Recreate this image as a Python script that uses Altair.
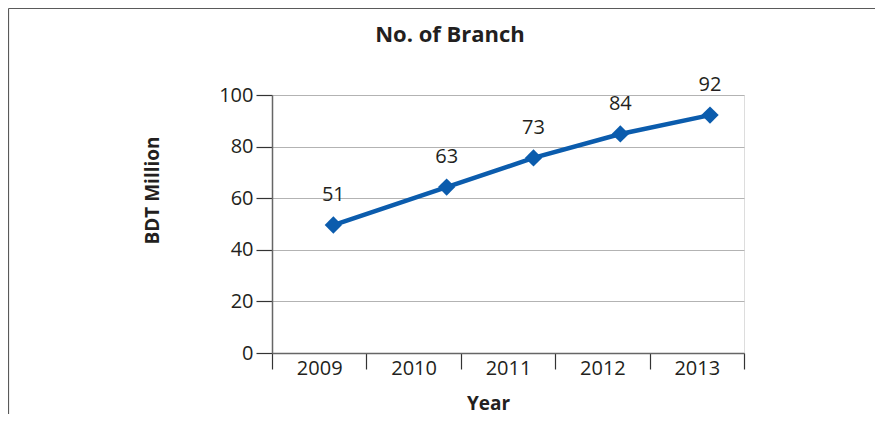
import altair as alt
import pandas as pd

# ---- data ----
years = ["2009", "2010", "2011", "2012", "2013"]
x_pos = [0.65, 1.85, 2.77, 3.69, 4.64]          # point position along the year bands (band units)
values = [49.6, 64.3, 75.6, 84.9, 92.2]         # plotted level
labels = ["51", "63", "73", "84", "92"]         # data label text
y_ticks = [0, 20, 40, 60, 80, 100]
chart_title = "No. of Branch"

df = pd.DataFrame({"year": years, "pos": x_pos, "value": values, "label": labels})

W, H = 472, 258
PAD = {"left": 264, "top": 87, "right": 133, "bottom": 61}
FONT = "Open Sans"
TEXT = "#231f20"
BLUE = "#0b5cad"

base = alt.Chart(df)

y_enc = alt.Y(
    "value:Q",
    scale=alt.Scale(domain=[0, 100], nice=False, zero=True),
    axis=alt.Axis(
        values=y_ticks,
        title="BDT Million",
        titleFont=FONT, titleFontSize=19, titleFontWeight="bold", titleColor=TEXT,
        titleAngle=-90, titleX=-120, titleY=95, titleAlign="center", titleBaseline="middle",
        labelFont=FONT, labelFontSize=20, labelColor=TEXT, labelPadding=3,
        tickSize=16, tickColor="#333333", tickWidth=1.2,
        domainColor="#666666", domainWidth=1.5,
        grid=True, gridColor="#b3b3b3", gridWidth=1,
    ),
)

axis_layer = base.mark_point(opacity=0).encode(
    x=alt.X(
        "year:O",
        scale=alt.Scale(type="band", paddingInner=0, paddingOuter=0),
        axis=alt.Axis(
            title="Year",
            titleFont=FONT, titleFontSize=19, titleFontWeight="bold", titleColor=TEXT,
            titleX=216, titleY=50, titleAlign="center", titleBaseline="middle",
            labelAngle=0, labelFont=FONT, labelFontSize=20, labelColor=TEXT,
            labelPadding=-11,
            tickBand="extent", tickSize=16, tickColor="#333333", tickWidth=1.2,
            domainColor="#666666", domainWidth=1.5, grid=False,
        ),
    ),
    y=y_enc,
)

x_q = alt.X("pos:Q", scale=alt.Scale(domain=[0, 5], nice=False, zero=False), axis=None)

line = base.mark_line(color=BLUE, strokeWidth=4.5).encode(x=x_q, y="value:Q")
pts = base.mark_point(shape="diamond", filled=True, size=300, color=BLUE, opacity=1).encode(
    x=x_q, y="value:Q"
)
txt = base.mark_text(dy=-30, fontSize=20, font=FONT, color=TEXT, baseline="middle").encode(
    x=x_q, y="value:Q", text="label:N"
)

one = pd.DataFrame({"title": [chart_title]})
title_mark = alt.Chart(one).mark_text(
    font=FONT, fontSize=22, fontWeight="bold", color=TEXT, align="center", baseline="middle"
).encode(text="title:N", x=alt.value(178), y=alt.value(-60))

frame_left = alt.Chart(one).mark_rule(color="#5a5a5a", strokeWidth=1.2).encode(
    x=alt.value(-263.5), y=alt.value(-86.5), y2=alt.value(H + PAD["bottom"])
)
frame_top = alt.Chart(one).mark_rule(color="#5a5a5a", strokeWidth=1.2).encode(
    x=alt.value(-263.5), x2=alt.value(W + 131), y=alt.value(-86.5)
)

chart = (
    alt.layer(axis_layer, line, pts, txt, title_mark, frame_left, frame_top)
    .resolve_scale(x="independent")
    .properties(
        width=W,
        height=H,
        padding=PAD,
        autosize=alt.AutoSizeParams(type="none"),
    )
    .configure_view(stroke=None)
    .configure(background="white")
)

chart.save("out.html", embed_options={"renderer": "svg", "actions": False})
